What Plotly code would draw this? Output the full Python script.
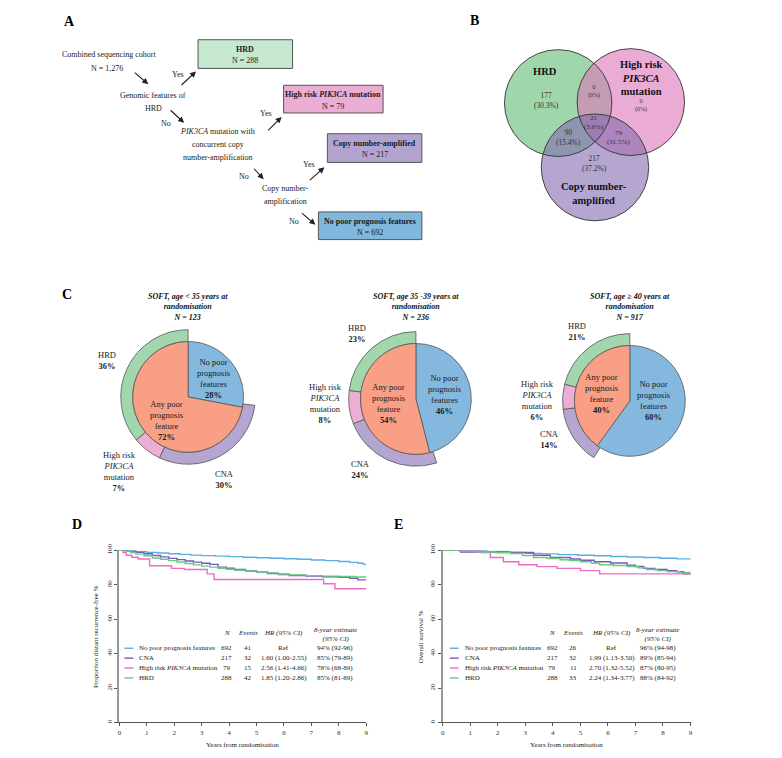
import plotly.graph_objects as go

W, H = 782, 758
OFF = 8  # page body margin compensation
FONT = "Liberation Serif"

# ---------------- data ----------------
cohort_n = 1276
flow_labels = ["HRD", "High risk <i>PIK3CA</i> mutation", "Copy number-amplified", "No poor prognosis features"]
flow_counts = [288, 79, 217, 692]

venn_counts = {"hrd": 177, "pik": 0, "cna": 217, "hrd_pik": 0, "hrd_cna": 90, "pik_cna": 79, "all": 21}
venn_pcts = {"hrd": "30.3%", "pik": "0%", "cna": "37.2%", "hrd_pik": "0%", "hrd_cna": "15.4%", "pik_cna": "31.5%", "all": "3.6%"}

pie_age = ["age &lt; 35 years at", "age 35 -39 years at", "age ≥ 40 years at"]
pie_n = [123, 236, 917]
pie_none = [28, 46, 60]
pie_any = [72, 54, 40]
ring_hrd = [36, 23, 21]
ring_pik = [7, 8, 6]
ring_cna = [30, 24, 14]

groups = ["No poor prognosis features", "CNA", "High risk <i>PIK3CA</i> mutation", "HRD"]
group_n = [692, 217, 79, 288]
d_events = [41, 32, 15, 42]
d_hr = ["Ref", "1.60 (1.00-2.55)", "2.56 (1.41-4.66)", "1.85 (1.20-2.86)"]
d_est = ["94% (92-96)", "85% (79-89)", "78% (68-89)", "85% (81-89)"]
e_events = [26, 32, 11, 33]
e_hr = ["Ref", "1.99 (1.13-3.50)", "2.70 (1.32-5.52)", "2.24 (1.34-3.77)"]
e_est = ["96% (94-98)", "89% (85-94)", "87% (80-95)", "88% (84-92)"]

# KM curves, panel D (distant recurrence-free)
d_none_t = [0, 0.3, 0.6, 1.0, 1.4, 1.8, 2.2, 2.6, 3.0, 3.5, 4.0, 4.5, 5.0, 5.5, 6.0, 6.5, 7.0, 7.5, 8.0, 8.4, 8.7, 8.9, 9.0]
d_none_s = [100, 99.6, 99.2, 98.8, 98.4, 98.0, 97.6, 97.2, 96.9, 96.6, 96.3, 96.0, 95.7, 95.4, 95.1, 94.8, 94.4, 94.0, 93.5, 93.0, 92.5, 91.8, 91.4]
d_cna_t = [0, 0.3, 0.6, 0.9, 1.2, 1.5, 1.8, 2.1, 2.4, 2.7, 3.0, 3.3, 3.6, 3.9, 4.2, 4.6, 5.0, 5.4, 5.8, 6.2, 6.8, 7.4, 8.0, 8.4, 8.7, 9.0]
d_cna_s = [100, 99.5, 98.8, 98.0, 97.0, 96.2, 95.3, 94.6, 93.8, 93.1, 92.5, 91.8, 90.2, 89.6, 88.9, 88.0, 87.3, 86.5, 85.9, 85.4, 85.0, 84.6, 84.3, 83.8, 82.8, 82.5]
d_pik_t = [0, 0.13, 0.25, 0.45, 0.68, 1.1, 1.9, 2.37, 3.2, 3.45, 7.45, 7.86, 9.0]
d_pik_s = [100, 98.7, 97.1, 96.0, 94.9, 91.0, 89.5, 88.8, 86.3, 83.0, 80.6, 77.7, 77.7]
d_hrd_t = [0, 0.2, 0.4, 0.6, 0.9, 1.2, 1.5, 1.8, 2.1, 2.4, 2.7, 3.0, 3.3, 3.6, 3.9, 4.2, 4.6, 5.0, 5.4, 5.8, 6.2, 6.8, 7.4, 8.0, 8.6, 9.0]
d_hrd_s = [100, 99.5, 98.7, 97.8, 96.8, 95.5, 94.8, 94.0, 93.2, 92.3, 91.5, 90.8, 90.2, 89.6, 89.0, 88.4, 87.9, 87.4, 86.9, 86.2, 85.7, 85.3, 85.0, 84.8, 84.5, 84.0]

# KM curves, panel E (overall survival)
e_none_t = [0, 0.8, 1.6, 2.4, 3.0, 3.6, 4.2, 4.9, 5.5, 6.1, 6.7, 7.3, 7.9, 8.5, 9.0]
e_none_s = [100, 99.7, 99.3, 98.8, 98.2, 97.9, 97.5, 97.1, 96.8, 96.4, 96.1, 95.8, 95.4, 95.0, 94.6]
e_cna_t = [0, 0.64, 1.5, 2.5, 3.3, 3.9, 4.64, 5.0, 5.5, 6.1, 6.7, 7.0, 7.3, 7.7, 8.15, 8.5, 8.75, 9.0]
e_cna_s = [100, 99.0, 98.9, 98.7, 97.1, 95.8, 94.9, 94.2, 93.3, 92.6, 91.4, 90.6, 89.5, 88.8, 88.2, 87.5, 86.3, 85.7]
e_pik_t = [0, 1.0, 1.37, 1.73, 2.2, 2.76, 3.43, 4.15, 5.0, 5.7, 9.0]
e_pik_s = [100, 99.8, 98.7, 95.8, 93.3, 91.6, 90.5, 89.5, 88.2, 86.3, 86.3]
e_hrd_t = [0, 0.6, 1.25, 1.9, 2.46, 2.9, 3.3, 3.8, 4.27, 4.6, 5.0, 5.4, 5.7, 6.2, 6.7, 7.1, 7.4, 7.8, 8.15, 8.6, 9.0]
e_hrd_s = [100, 99.5, 99.0, 98.6, 98.1, 97.0, 95.8, 95.2, 94.5, 94.0, 93.3, 92.5, 91.6, 91.2, 90.5, 89.8, 88.8, 88.2, 87.6, 87.2, 86.9]

x_ticks = [0, 1, 2, 3, 4, 5, 6, 7, 8, 9]
y_ticks = [0, 20, 40, 60, 80, 100]

# ---------------- styles ----------------
C_GREEN = "#a2d7ae"
C_PINK = "#ecaed5"
C_PURPLE = "#b4a6d0"
C_BLUE = "#84b8de"
C_SALMON = "#f89f86"
KM_COL = ["#5aaee6", "#7a58c0", "#f06cc4", "#66cc7e"]
TXT = "#1a1a1a"


def px(x):
    return (x - OFF) / W


def py(y):
    return 1 - (y - OFF) / H


fig = go.Figure()
ann = []
shapes = []


def text(x, y, s, size=8, xanchor="center", yanchor="middle", angle=0, color=TXT):
    ann.append(dict(x=px(x), y=py(y), xref="paper", yref="paper", text=s, showarrow=False,
                    xanchor=xanchor, yanchor=yanchor, textangle=angle,
                    font=dict(family=FONT, size=size, color=color)))


def arrow(x0, y0, x1, y1):
    ann.append(dict(x=px(x1), y=py(y1), xref="paper", yref="paper", text="", showarrow=True,
                    ax=x0 - x1, ay=y0 - y1, axref="pixel", ayref="pixel",
                    arrowhead=2, arrowsize=1.1, arrowwidth=1.1, arrowcolor="#222"))


def rect(x0, y0, x1, y1, fill):
    shapes.append(dict(type="rect", xref="paper", yref="paper", x0=px(x0), x1=px(x1), y0=py(y1), y1=py(y0),
                       fillcolor=fill, line=dict(color="#555", width=1)))


# ---------------- panel letters ----------------
for L, x, y in [("A", 68, 15), ("B", 475, 14), ("C", 65, 290), ("D", 75, 523), ("E", 398, 523)]:
    text(x, y, "<b>%s</b>" % L, size=14, color="#000")

# ---------------- panel A: flowchart ----------------
text(108, 48, "Combined sequencing cohort")
text(105, 62, "N = {:,}".format(cohort_n))
arrow(132, 65, 147, 78)
text(152, 89, "Genomic features of")
text(152, 102, "HRD")
text(177, 68, "Yes")
arrow(179, 80, 195, 65)
text(165, 118, "No")
arrow(168, 103, 183, 117)
text(217, 126, "<i>PIK3CA</i> mutation with")
text(217, 139, "concurrent copy")
text(217, 152, "number-amplification")
text(265, 108, "Yes")
arrow(266, 126, 281, 111)
text(243, 171, "No")
arrow(252, 162, 263, 174)
text(285, 183, "Copy number-")
text(285, 196, "amplification")
text(309, 159, "Yes")
arrow(308, 176, 324, 162)
text(293, 217, "No")
arrow(300, 207, 315, 220)

boxes = [(197, 33, 292, 62), (283, 79, 383, 107), (327, 128, 422, 157), (318, 207, 422, 235)]
box_fill = ["#c6e8cf", "#eaadd3", "#b3a4cf", "#80b7dc"]
for (x0, y0, x1, y1), lab, n, f in zip(boxes, flow_labels, flow_counts, box_fill):
    rect(x0, y0, x1, y1, f)
    cx = (x0 + x1) / 2
    text(cx, y0 + 9.5, "<b>%s</b>" % lab)
    text(cx, y0 + 21, "N = %d" % n)

# ---------------- panel B: Venn ----------------
R = 54
circles = [(559, 97, "rgba(97,187,117,0.6)"), (632, 96, "rgba(220,117,185,0.6)"), (596, 162, "rgba(130,107,177,0.6)")]
for cx, cy, col in circles:
    shapes.append(dict(type="circle", xref="paper", yref="paper", x0=px(cx - R), x1=px(cx + R),
                       y0=py(cy + R), y1=py(cy - R), fillcolor=col, line=dict(width=0)))
for cx, cy, col in circles:
    shapes.append(dict(type="circle", xref="paper", yref="paper", x0=px(cx - R), x1=px(cx + R),
                       y0=py(cy + R), y1=py(cy - R), fillcolor="rgba(0,0,0,0)", line=dict(color="#333", width=0.9)))

text(546, 65, "<b>HRD</b>", size=10.5, color="#111")
text(642, 72, "<b>High risk<br><i>PIK3CA</i><br>mutation</b>", size=10.5, color="#111")
text(595, 188, "<b>Copy number-<br>amplified</b>", size=10.5, color="#111")
venn_pos = {"hrd": (547, 94, 7.5), "pik": (642, 99, 6), "cna": (596, 158, 7.5), "hrd_pik": (595, 85, 6),
            "hrd_cna": (569, 132, 7.5), "pik_cna": (620, 132, 7), "all": (595, 117, 7)}
for k, (x, y, s) in venn_pos.items():
    text(x, y, "%d<br>(%s)" % (venn_counts[k], venn_pcts[k]), size=s, color="#333")

# ---------------- panel C: pies ----------------
pie_centres = [(187, 394), (416, 396), (631, 398)]
R_IN, R_OUT = 56, 68
for i, (cx, cy) in enumerate(pie_centres):
    rem = max(0, 100 - ring_hrd[i] - ring_pik[i] - ring_cna[i])
    # clockwise from 12 o'clock: remainder, CNA, PIK3CA, HRD  (== HRD first going anticlockwise)
    fig.add_trace(go.Pie(values=[rem, ring_cna[i], ring_pik[i], ring_hrd[i]], sort=False,
                         direction="clockwise", rotation=0, hole=R_IN / R_OUT,
                         marker=dict(colors=["rgba(0,0,0,0)", C_PURPLE, C_PINK, C_GREEN],
                                     line=dict(color=["rgba(0,0,0,0)", "#555", "#555", "#555"], width=0.8)),
                         textinfo="none", hoverinfo="skip", showlegend=False,
                         domain=dict(x=[px(cx - R_OUT), px(cx + R_OUT)], y=[py(cy + R_OUT), py(cy - R_OUT)])))
    fig.add_trace(go.Pie(values=[pie_none[i], pie_any[i]], sort=False, direction="clockwise", rotation=0,
                         marker=dict(colors=[C_BLUE, C_SALMON], line=dict(color="#555", width=0.8)),
                         textinfo="none", hoverinfo="skip", showlegend=False,
                         domain=dict(x=[px(cx - R_IN), px(cx + R_IN)], y=[py(cy + R_IN), py(cy - R_IN)])))
    text(cx, 303, "<b><i>SOFT, %s<br>randomisation<br>N = %d</i></b>" % (pie_age[i], pie_n[i]), size=8, color="#111")

# pie labels
lab_pos = [
    dict(hrd=(106, 357), pik=(118, 469), cna=(224, 477), none=(213, 375), any=(165, 418)),
    dict(hrd=(357, 330), pik=(325, 401), cna=(360, 467), none=(445, 392), any=(388, 401)),
    dict(hrd=(578, 328), pik=(538, 398), cna=(550, 437), none=(655, 398), any=(603, 391)),
]
for i, p in enumerate(lab_pos):
    text(*p["hrd"], "HRD<br><b>%d%%</b>" % ring_hrd[i], size=8.5)
    text(*p["pik"], "High risk<br><i>PIK3CA</i><br>mutation<br><b>%d%%</b>" % ring_pik[i], size=8.5)
    text(*p["cna"], "CNA<br><b>%d%%</b>" % ring_cna[i], size=8.5)
    text(*p["none"], "No poor<br>prognosis<br>features<br><b>%d%%</b>" % pie_none[i], size=8.5)
    text(*p["any"], "Any poor<br>prognosis<br>feature<br><b>%d%%</b>" % pie_any[i], size=8.5)

# ---------------- panels D & E: KM ----------------
d_curves = [(d_none_t, d_none_s), (d_cna_t, d_cna_s), (d_pik_t, d_pik_s), (d_hrd_t, d_hrd_s)]
e_curves = [(e_none_t, e_none_s), (e_cna_t, e_cna_s), (e_pik_t, e_pik_s), (e_hrd_t, e_hrd_s)]
for j, (t, s) in enumerate(d_curves):
    fig.add_trace(go.Scatter(x=t, y=s, mode="lines", line=dict(color=KM_COL[j], width=1.4, shape="hv"),
                             showlegend=False, hoverinfo="skip", xaxis="x", yaxis="y"))
for j, (t, s) in enumerate(e_curves):
    fig.add_trace(go.Scatter(x=t, y=s, mode="lines", line=dict(color=KM_COL[j], width=1.4, shape="hv"),
                             showlegend=False, hoverinfo="skip", xaxis="x2", yaxis="y2"))

ax_common = dict(showgrid=False, zeroline=False, showline=True, ticks="outside", ticklen=3,
                 tickfont=dict(family=FONT, size=7, color="#333"), fixedrange=True)
xax = dict(ax_common, range=[0, 9], tickvals=x_ticks, linecolor="#555", linewidth=1, tickcolor="#555")
yax = dict(ax_common, range=[0, 100], tickvals=y_ticks, tickangle=-90, linecolor="#999", linewidth=2, tickcolor="#555")

d_box = (118, 366, 549, 723)
e_box = (443, 692, 549, 723)

fig.update_layout(
    xaxis=dict(xax, domain=[px(d_box[0]), px(d_box[1])], anchor="y"),
    yaxis=dict(yax, domain=[py(d_box[3]), py(d_box[2])], anchor="x"),
    xaxis2=dict(xax, domain=[px(e_box[0]), px(e_box[1])], anchor="y2"),
    yaxis2=dict(yax, domain=[py(e_box[3]), py(e_box[2])], anchor="x2"),
)

text(95, 636, "Proportion distant recurrence-free %", size=7, angle=-90)
text(242, 746, "Years from randomisation", size=7)
text(421, 636, "Overall survival %", size=7, angle=-90)
text(567, 746, "Years from randomisation", size=7)

row_y = [648, 658, 668, 678]
tables = [
    dict(x_line=123, x_lab=136, x_n=226, x_ev=247, x_hr=283, x_est=335, ev=d_events, hr=d_hr, est=d_est),
    dict(x_line=450, x_lab=463, x_n=553, x_ev=574, x_hr=613, x_est=659, ev=e_events, hr=e_hr, est=e_est),
]
for tb in tables:
    text(tb["x_n"], 633, "<i>N</i>", size=7)
    text(tb["x_ev"], 633, "<i>Events</i>", size=7)
    text(tb["x_hr"], 633, "<i>HR (95% CI)</i>", size=7)
    text(tb["x_est"], 634, "<i>8-year estimate<br>(95% CI)</i>", size=7)
    for j in range(4):
        y = row_y[j]
        shapes.append(dict(type="line", xref="paper", yref="paper", x0=px(tb["x_line"]), x1=px(tb["x_line"] + 9),
                           y0=py(y), y1=py(y), line=dict(color=KM_COL[j], width=1.4)))
        text(tb["x_lab"], y, groups[j], size=7, xanchor="left")
        text(tb["x_n"], y, str(group_n[j]), size=7)
        text(tb["x_ev"], y, str(tb["ev"][j]), size=7)
        text(tb["x_hr"], y, tb["hr"][j], size=7)
        text(tb["x_est"], y, tb["est"][j], size=7)

fig.update_layout(width=W, height=H, margin=dict(l=0, r=0, t=0, b=0), paper_bgcolor="white",
                  plot_bgcolor="white", annotations=ann, shapes=shapes, showlegend=False,
                  font=dict(family=FONT))
fig.write_html("out.html")
